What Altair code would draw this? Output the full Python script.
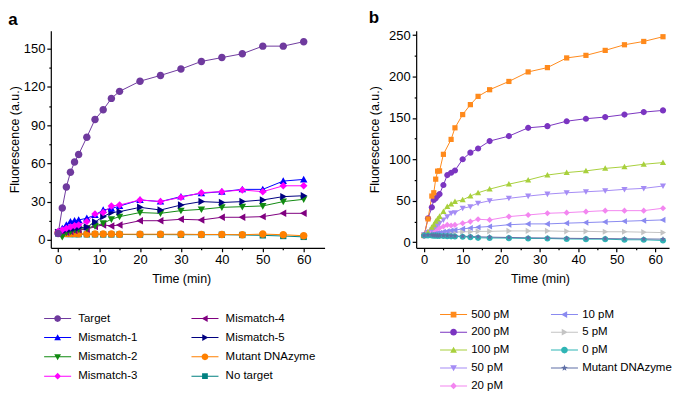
import math
import altair as alt
import pandas as pd

# ---------------- panel a data ----------------
time_a = [0, 1, 2, 3, 4, 5, 7, 9, 11, 13, 15, 20, 25, 30, 35, 40, 45, 50, 55, 60]
target = [5, 25, 41.5, 53, 61, 67, 80.5, 94.5, 102, 111, 116.5, 124.5, 129, 134, 140, 143, 146, 152, 152, 155.5]
mismatch_1 = [6.5, 9, 11.7, 14.3, 15, 15.6, 16.9, 19.5, 23.4, 24.5, 26.5, 31.3, 30, 33.9, 36.5, 37.8, 39.6, 39.6, 46.1, 47.4]
mismatch_2 = [5.7, 2.3, 5.7, 6.5, 7.8, 8.3, 9.1, 10.9, 13, 16.1, 18.2, 21.4, 20.8, 22.9, 23.9, 25.5, 26, 26.6, 30, 31.8]
mismatch_3 = [6.5, 7.8, 9, 10, 11, 11.7, 14.3, 20.3, 21.4, 26.6, 27.3, 31.3, 30, 33.3, 37, 37.8, 39.1, 37.8, 42.4, 42.4]
mismatch_4 = [5.7, 6.5, 6, 6.5, 7.3, 7.8, 8.3, 10.4, 11.7, 10.9, 11.7, 15, 15, 16.1, 15.6, 17.7, 17.7, 18.2, 20.8, 20.8]
mismatch_5 = [5.7, 6.5, 7.8, 8.3, 9.1, 9.5, 10, 14, 18.2, 21.4, 22.1, 25.5, 23.4, 27.3, 30, 29.3, 30, 31.3, 33.9, 34.6]
mutant_a = [5.5, 5, 5, 5, 5, 4.7, 4.5, 4.5, 4.5, 4.5, 4.4, 4.4, 4.4, 4.4, 4.2, 4.2, 4, 4.5, 4, 3.2]
no_target = [5, 4.8, 4.6, 4.5, 4.5, 4.4, 4.3, 4.3, 4.2, 4.2, 4.2, 4.1, 4.1, 4, 4, 4, 3.8, 3.5, 3, 2.3]

series_a = ["Target", "Mismatch-1", "Mismatch-2", "Mismatch-3", "Mismatch-4",
            "Mismatch-5", "Mutant DNAzyme", "No target"]
values_a = [target, mismatch_1, mismatch_2, mismatch_3, mismatch_4, mismatch_5, mutant_a, no_target]
colors_a = ["#6f3a9e", "#0000ff", "#118a11", "#ff00ff", "#800080", "#000080", "#ff8000", "#008080"]
shapes_a = ["circle", "triangle-up", "triangle-down", "diamond", "triangle-left",
            "triangle-right", "circle", "square"]
draw_order_a = ["No target", "Mutant DNAzyme", "Mismatch-4", "Mismatch-2", "Mismatch-5",
                "Mismatch-1", "Mismatch-3", "Target"]

# ---------------- panel b data ----------------
time_b = [0, 1, 2, 2.5, 3, 3.5, 4, 5, 6, 7, 8, 10, 12, 14, 17, 22, 27, 32, 37, 42, 47, 52, 57, 62]
pm500 = [8, 28, 55.6, 59.6, 76, 85.7, 86, 106, None, 124, 138, 154, 166, 176, 184, 194, 205.5, 210.7, 222.4, 225.5, 231.5, 238.3, 242.3, 248]
pm200 = [8, 28.8, 42, 50.8, 53, 56, 58, 69, 80.9, 83.7, 86.5, 100, 108, 113, 122, 128, 138, 140, 146, 149, 151, 154, 157, 159]
pm100 = [8, 12, 18, 21, 25, 28, 31, 37, 43, 46, 49, 51, 55.6, 59.6, 64, 70, 75, 81, 84, 86, 89, 91, 94, 96]
pm50 = [9, 12, 14.8, 17, 18.8, 21, 22.8, 26.8, 30.8, 35, 35.6, 40.9, 42.8, 46.9, 50, 52.9, 55.6, 58, 59.6, 60.8, 62, 63.7, 64.9, 67.7]
pm20 = [8, 12, 14.5, 15, 16, 16.5, 17, 18.8, 20.8, 20, 20.8, 22.8, 24.8, 27.6, 26.8, 30.8, 32.8, 34.8, 35.6, 36.8, 38, 38, 38, 40.9]
pm10 = [8, 9, 10, 10.2, 10.5, 10.8, 11, 12.5, 13, 14, 14.5, 16, 17, 18, 18.8, 21, 22, 22, 22.9, 23.6, 24.4, 25.2, 26, 26.8]
pm5 = [8, 9, 9.5, 10, 10, 10.5, 11, 11, 11.5, 12, 12, 12.5, 12.5, 13, 13, 13.5, 13.5, 13.5, 13, 13, 12.5, 12.5, 12, 11.5]
pm0 = [8, 8, 8, 7.8, 7.8, 7.6, 7.6, 7.4, 7.2, 7, 6.8, 6.5, 6, 5.2, 5, 4.8, 4.4, 4.4, 3.8, 3.6, 3.6, 2.8, 2.8, 2]
mutant_b = [8, 8.5, 8.5, 8.3, 8.2, 8, 8, 8, 7.8, 7.6, 7.4, 7, 6.8, 6.4, 6, 5.6, 5.2, 5, 4.6, 4.4, 4.2, 4, 3.8, 3.6]

series_b = ["500 pM", "200 pM", "100 pM", "50 pM", "20 pM", "10 pM", "5 pM", "0 pM", "Mutant DNAzyme"]
values_b = [pm500, pm200, pm100, pm50, pm20, pm10, pm5, pm0, mutant_b]
colors_b = ["#ff8a1c", "#7b35c1", "#a8d03c", "#a58cf5", "#f386f0", "#8a8af0", "#c4c4c4", "#2fb5b5", "#5f6fa6"]
shapes_b = ["square", "circle", "triangle-up", "triangle-down", "diamond", "triangle-left",
            "triangle-right", "circle", "star"]
draw_order_b = ["5 pM", "10 pM", "20 pM", "50 pM", "100 pM", "200 pM", "500 pM",
                "0 pM", "Mutant DNAzyme"]

FONT = "Liberation Sans"


def star_path(outer=1.0, inner=0.42):
    pts = []
    for k in range(10):
        r = outer if k % 2 == 0 else inner
        ang = math.pi * k / 5
        pts.append((r * math.sin(ang), -r * math.cos(ang)))
    return "M" + "L".join(f"{x:.3f},{y:.3f}" for x, y in pts) + "Z"


MARKER = {
    "circle": "M-1,0A1,1 0 1,1 1,0A1,1 0 1,1 -1,0Z",
    "square": "M-0.85,-0.85H0.85V0.85H-0.85Z",
    "triangle-up": "M0,-1L1,0.8H-1Z",
    "triangle-down": "M0,1L-1,-0.8H1Z",
    "triangle-left": "M-1,0L0.8,-1V1Z",
    "triangle-right": "M1,0L-0.8,1V-1Z",
    "diamond": "M0,-1L1,0L0,1L-1,0Z",
    "star": star_path(),
}
STUBS = "M-4,-0.15H-0.5V0.15H-4ZM0.5,-0.15H4V0.15H0.5Z"


def build_df(times, series, values, order):
    rows = []
    lookup = dict(zip(series, values))
    for name in order:
        for t, v in zip(times, lookup[name]):
            if v is not None:
                rows.append({"time": t, "value": v, "series": name})
    return pd.DataFrame(rows)


def tick_axis(vals, major, title, title_pad, title_x=None):
    kw = dict(
        values=vals,
        labelExpr=f"datum.value % {major} === 0 ? datum.label : ''",
        tickSize={"condition": {"test": f"datum.value % {major} === 0", "value": 4}, "value": 2},
        title=title,
        titlePadding=title_pad,
    )
    if title_x is not None:
        kw["titleX"] = title_x
    return alt.Axis(**kw)


def panel(letter, times, series, values, colors, shapes, draw_order,
          xdom, ydom, w, h, xvals, xmajor, yvals, ymajor, ytitle_pad, title_x,
          leg_x, leg_y, col_pad, row_pad, label_off, point_size):
    df = build_df(times, series, values, draw_order)
    x = alt.X("time:Q", scale=alt.Scale(domain=xdom, nice=False, zero=False),
              axis=tick_axis(xvals, xmajor, "Time (min)", 6, title_x))
    y = alt.Y("value:Q", scale=alt.Scale(domain=ydom, nice=False, zero=False),
              axis=tick_axis(yvals, ymajor, "Fluorescence (a.u.)", ytitle_pad))
    cscale = alt.Scale(domain=series, range=colors)
    base = alt.Chart(df)
    lines = base.mark_line(strokeWidth=1).encode(
        x=x, y=y, color=alt.Color("series:N", scale=cscale, legend=None))
    points = base.mark_point(filled=True, size=point_size, opacity=1).encode(
        x=x, y=y,
        color=alt.Color("series:N", scale=cscale, legend=None),
        shape=alt.Shape("series:N", scale=alt.Scale(domain=series, range=[MARKER[s] for s in shapes]),
                        legend=None))
    leg = alt.Legend(orient="none", legendX=leg_x, legendY=leg_y, columns=2,
                     columnPadding=col_pad, rowPadding=row_pad, title=None,
                     values=series, symbolSize=46, symbolStrokeWidth=0,
                     symbolOpacity=1, labelFont=FONT, labelFontSize=11.5,
                     labelColor="#000000", labelOffset=label_off, padding=0)
    legend_layer = base.mark_point(filled=True, size=46, opacity=0).encode(
        x=x, y=y,
        color=alt.Color("series:N", scale=cscale, legend=leg),
        shape=alt.Shape("series:N",
                        scale=alt.Scale(domain=series,
                                        range=[MARKER[s] + STUBS for s in shapes]),
                        legend=leg))
    return alt.layer(lines, points, legend_layer).resolve_scale(
        color="independent", shape="independent").properties(
        width=w, height=h,
        title=alt.TitleParams(text=letter, anchor="start", frame="bounds", fontSize=17,
                              fontWeight="bold", font=FONT, color="#000000", offset=2))


panel_a = panel("a", time_a, series_a, values_a, colors_a, shapes_a, draw_order_a,
                [-1.8, 65.1], [-6.25, 164.06], 275, 218,
                list(range(0, 65, 5)), 10, list(range(0, 165, 15)), 30, 2, 131,
                1.1, 283, 54, 6.4, 15, 56)

panel_b = panel("b", time_b, series_b, values_b, colors_b, shapes_b, draw_order_b,
                [-2.07, 63.57], [-6.85, 255.2], 254, 218,
                list(range(0, 65, 5)), 10, list(range(0, 255, 25)), 50, 7, 124.4,
                31.8, 279, 41.4, 5, 12, 38)

chart = alt.hconcat(panel_a, panel_b, spacing=44).properties(
    padding={"left": 0, "top": 0, "right": 0, "bottom": 0}
).configure_view(stroke=None).configure_axis(
    grid=False, domainColor="#000000", domainWidth=1.2, tickColor="#000000", tickWidth=1.2,
    labelFont=FONT, labelFontSize=13, labelColor="#000000", labelPadding=2,
    titleFont=FONT, titleFontSize=12.5, titleFontWeight="normal", titleColor="#000000"
)

chart.save("out.html", embed_options={"renderer": "svg", "actions": False})
